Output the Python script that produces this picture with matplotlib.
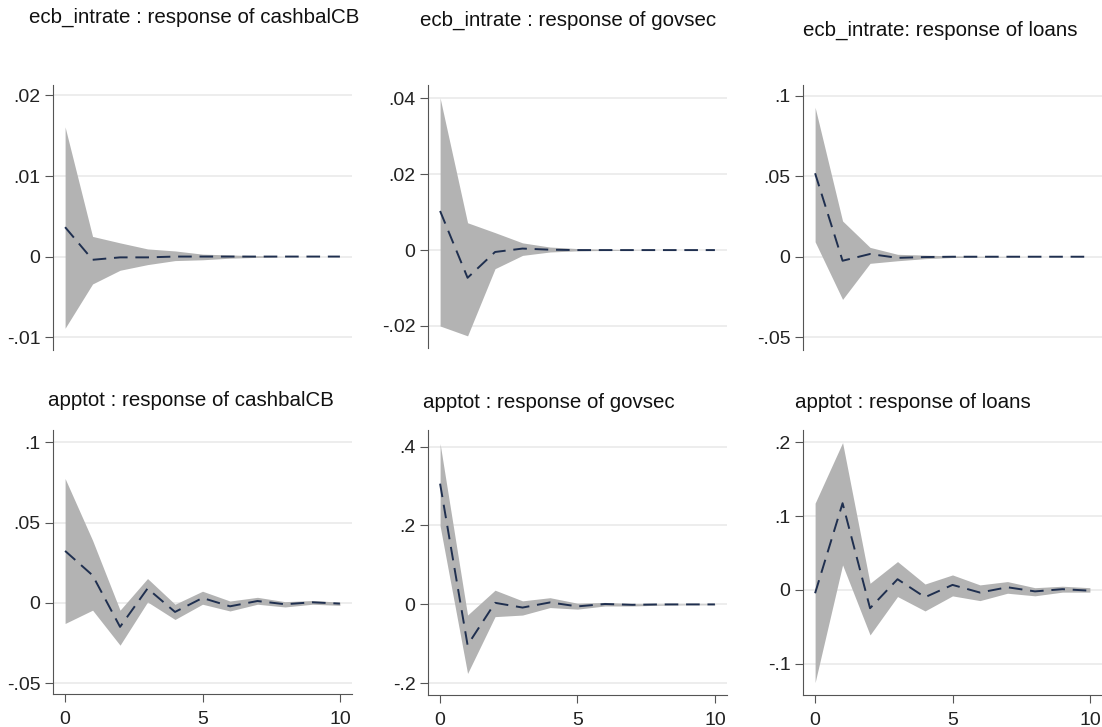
import numpy as np
import matplotlib
matplotlib.use("Agg")
import matplotlib.pyplot as plt

plt.rcParams['font.family'] = ['Liberation Sans', 'DejaVu Sans']

steps = np.arange(11)

# impulse responses (irf) with lower / upper confidence bands
irf_cash_rate = [0.00365, -0.0004, -0.0001, -0.0001, 0.0, 0.0, 0.0, 0.0, 0.0, 0.0, 0.0]
lo_cash_rate = [-0.0089, -0.0034, -0.0017, -0.001, -0.0005, -0.0004, -0.0002, -0.0001, 0.0, 0.0, 0.0]
hi_cash_rate = [0.0161, 0.0025, 0.0017, 0.00095, 0.0007, 0.0003, 0.0002, 0.0001, 0.0, 0.0, 0.0]

irf_gov_rate = [0.0103, -0.0073, -0.0005, 0.0004, 0.0001, 0.0, 0.0, 0.0, 0.0, 0.0, 0.0]
lo_gov_rate = [-0.020, -0.0226, -0.0049, -0.0014, -0.0005, -0.0002, -0.0001, 0.0, 0.0, 0.0, 0.0]
hi_gov_rate = [0.0401, 0.0072, 0.0046, 0.0019, 0.0008, 0.0004, 0.0002, 0.0001, 0.0, 0.0, 0.0]

irf_loan_rate = [0.0518, -0.0025, 0.0017, -0.0007, -0.0002, 0.0, 0.0, 0.0, 0.0, 0.0, 0.0]
lo_loan_rate = [0.0093, -0.0265, -0.0041, -0.0025, -0.0012, -0.0005, -0.0002, -0.0001, 0.0, 0.0, 0.0]
hi_loan_rate = [0.0928, 0.0222, 0.0058, 0.0015, 0.001, 0.0005, 0.0002, 0.0001, 0.0, 0.0, 0.0]

irf_cash_app = [0.0324, 0.0172, -0.0149, 0.009, -0.0056, 0.0031, -0.0021, 0.0012, -0.0008, 0.0004, -0.0004]
lo_cash_app = [-0.0128, -0.0045, -0.0263, 0.0006, -0.0103, -0.0008, -0.005, -0.0008, -0.0025, -0.0008, -0.0015]
hi_cash_app = [0.0775, 0.039, -0.0045, 0.0152, -0.0008, 0.0073, 0.0012, 0.0035, 0.0008, 0.0015, 0.0005]

irf_gov_app = [0.306, -0.103, 0.004, -0.008, 0.005, -0.005, 0.001, -0.001, 0.0, 0.0, 0.0]
lo_gov_app = [0.199, -0.175, -0.031, -0.027, -0.008, -0.012, -0.004, -0.004, -0.002, -0.001, -0.001]
hi_gov_app = [0.4076, -0.027, 0.036, 0.009, 0.017, 0.003, 0.005, 0.002, 0.001, 0.001, 0.001]

irf_loan_app = [-0.0045, 0.1175, -0.0248, 0.0145, -0.0099, 0.0068, -0.0036, 0.0036, -0.002, 0.001, -0.001]
lo_loan_app = [-0.1256, 0.0339, -0.061, -0.009, -0.0285, -0.0081, -0.0145, -0.0045, -0.008, -0.003, -0.003]
hi_loan_app = [0.1175, 0.1996, 0.009, 0.0384, 0.008, 0.0203, 0.0068, 0.0113, 0.003, 0.005, 0.003]

titles = ["ecb_intrate : response of cashbalCB", "ecb_intrate : response of govsec",
          "ecb_intrate: response of loans", "apptot : response of cashbalCB",
          "apptot : response of govsec", "apptot : response of loans"]

yticks = [[-0.01, 0, 0.01, 0.02], [-0.02, 0, 0.02, 0.04], [-0.05, 0, 0.05, 0.1],
          [-0.05, 0, 0.05, 0.1], [-0.2, 0, 0.2, 0.4], [-0.1, 0, 0.1, 0.2]]
yticklabels = [["-.01", "0", ".01", ".02"], ["-.02", "0", ".02", ".04"], ["-.05", "0", ".05", ".1"],
               ["-.05", "0", ".05", ".1"], ["-.2", "0", ".2", ".4"], ["-.1", "0", ".1", ".2"]]
xticks = [0, 5, 10]

irfs = [irf_cash_rate, irf_gov_rate, irf_loan_rate, irf_cash_app, irf_gov_app, irf_loan_app]
los = [lo_cash_rate, lo_gov_rate, lo_loan_rate, lo_cash_app, lo_gov_app, lo_loan_app]
his = [hi_cash_rate, hi_gov_rate, hi_loan_rate, hi_cash_app, hi_gov_app, hi_loan_app]

# layout in pixels: (left, top, right, bottom), ylim, title position
W, H = 1102, 727
boxes = [(53, 85, 352, 350), (428, 85, 727, 348), (803, 85, 1102, 350),
         (53, 430, 352, 694), (428, 430, 727, 695), (803, 430, 1102, 695)]
ylims = [(-0.0116, 0.0213), (-0.0258, 0.0435), (-0.0579, 0.1066),
         (-0.0567, 0.1077), (-0.2296, 0.442), (-0.1424, 0.2167)]
title_pos = [(29, 17), (420, 20), (803, 30), (48, 400), (423, 402), (795, 403)]

fig = plt.figure(figsize=(W / 100, H / 100), dpi=100)

for i in range(6):
    l, t, r, b = boxes[i]
    ax = fig.add_axes([l / W, 1 - b / H, (r - l) / W, (b - t) / H])
    ax.fill_between(steps, los[i], his[i], color='#b3b3b3', linewidth=0)
    ax.plot(steps, irfs[i], color='#1f2f4f', linestyle=(0, (7, 4)), linewidth=1.4)
    ax.set_xlim(-0.44, 10.44)
    ax.set_ylim(ylims[i])
    ax.set_yticks(yticks[i])
    ax.set_yticklabels(yticklabels[i])
    ax.yaxis.grid(True, color='#e8e8e8', linewidth=1.1)
    ax.set_axisbelow(True)
    for s in ['top', 'right']:
        ax.spines[s].set_visible(False)
    ax.spines['left'].set_color('#555555')
    ax.spines['bottom'].set_color('#555555')
    ax.tick_params(axis='y', length=6, color='#555555', labelsize=14, labelcolor='#222222', pad=3)
    if i < 3:
        ax.spines['bottom'].set_visible(False)
        ax.set_xticks([])
    else:
        ax.set_xticks(xticks)
        ax.tick_params(axis='x', length=6, color='#555555', labelsize=14, labelcolor='#222222', pad=6)
    tx, ty = title_pos[i]
    fig.text(tx / W, 1 - ty / H, titles[i], fontsize=14.8, color='#111111', ha='left', va='center')

fig.savefig('out.png', dpi=100)
